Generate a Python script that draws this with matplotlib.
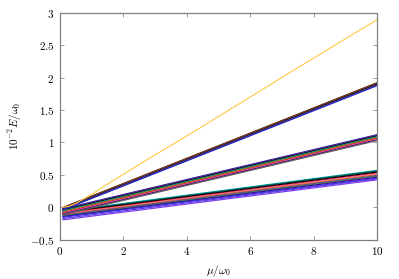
import matplotlib
matplotlib.use("Agg")
import matplotlib.pyplot as plt
import numpy as np

plt.rcParams['font.family'] = 'serif'
plt.rcParams['font.serif'] = ['cmr10']
plt.rcParams['mathtext.fontset'] = 'cm'
plt.rcParams['axes.formatter.use_mathtext'] = True
plt.rcParams['font.size'] = 8

# x range of the straight levels
mu_ends = [0.1, 10.0]

# upper single level (curved near the origin)
mu_top = [0.1, 0.3, 0.5, 0.75, 1.0, 1.5, 2.0, 3.0, 4.0, 6.0, 8.0, 10.0]
E_top = [0.0, 0.02, 0.06, 0.13, 0.20, 0.36, 0.51, 0.81, 1.10, 1.70, 2.30, 2.89]

# bundle 1 (start, end)
b1_start = [0.00, -0.005, -0.01, -0.015, -0.02, -0.025, -0.03, -0.035]
b1_end = [1.92, 1.915, 1.91, 1.905, 1.90, 1.895, 1.885, 1.875]

# bundle 2
b2_start = [-0.02, -0.03, -0.04, -0.05, -0.06, -0.07, -0.08, -0.09, -0.10, -0.11]
b2_end = [1.12, 1.11, 1.10, 1.09, 1.08, 1.07, 1.06, 1.05, 1.04, 1.03]

# bundle 3
b3_start = [-0.06, -0.07, -0.08, -0.09, -0.10, -0.11, -0.12, -0.13, -0.14, -0.15, -0.17, -0.19]
b3_end = [0.57, 0.56, 0.545, 0.53, 0.52, 0.505, 0.49, 0.48, 0.465, 0.45, 0.44, 0.425]

colors1 = ['#8b4513', 'black', '#e07020', '#4a2a10', '#7b2fa0', 'black', '#606060', '#2020d0']
colors = ['#1a1aa0', '#7b2fa0', 'black', '#008080', '#2e8b57', '#e07020', '#b22222',
          '#ff69b4', '#4b0082', '#606060', '#3030e0', '#9040d0']
colors3 = ['#00a0a0', '#006060', 'black', '#8b0000', '#ff69b4', '#e07020', '#7b2fa0',
           '#2e8b57', '#4b0082', '#3030e0', '#6040e0', '#8040f0']

fig = plt.figure(figsize=(3.99, 2.79), dpi=100)
ax = fig.add_axes([0.150, 0.140, 0.795, 0.815])

for i, (a, b) in enumerate(zip(b3_start, b3_end)):
    ax.plot(mu_ends, [a, b], color=colors3[i % len(colors3)], lw=0.9)
for i, (a, b) in enumerate(zip(b2_start, b2_end)):
    ax.plot(mu_ends, [a, b], color=colors[i % len(colors)], lw=0.9)
for i, (a, b) in enumerate(zip(b1_start, b1_end)):
    ax.plot(mu_ends, [a, b], color=colors1[i % len(colors1)], lw=0.9)
ax.plot(mu_top, E_top, color='#ffc845', lw=0.8)

ax.set_xlim(0, 10)
ax.set_ylim(-0.5, 3)
ax.set_xticks([0, 2, 4, 6, 8, 10])
ax.set_yticks([-0.5, 0, 0.5, 1, 1.5, 2, 2.5, 3])
ax.set_yticklabels(['$-0.5$', '$0$', '$0.5$', '$1$', '$1.5$', '$2$', '$2.5$', '$3$'])
ax.set_xticklabels(['$0$', '$2$', '$4$', '$6$', '$8$', '$10$'])
ax.tick_params(direction='in', length=3, width=0.5, color='0.45',
               top=True, right=True, labelsize=8, pad=4)
for s in ax.spines.values():
    s.set_color('0.5')
    s.set_linewidth(0.9)

ax.set_xlabel(r'$\mu/\omega_0$', fontsize=8, labelpad=4)
ax.set_ylabel(r'$10^{-2}E/\omega_0$', fontsize=8, labelpad=4)

fig.savefig('out.png', dpi=100)
